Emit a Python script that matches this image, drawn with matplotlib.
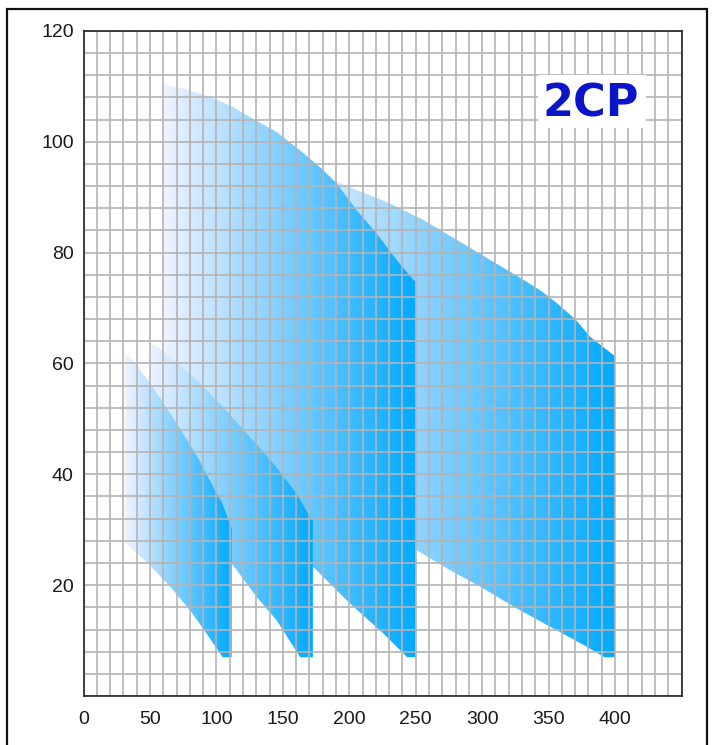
import numpy as np
import matplotlib
matplotlib.use("Agg")
import matplotlib.pyplot as plt
from matplotlib.colors import LinearSegmentedColormap
from matplotlib.patches import Polygon, Rectangle
from matplotlib.ticker import MultipleLocator, FixedLocator

# ---- data (flow Q on x, head H on y) ----
s1_upper_q = [31, 40, 52, 62, 75, 87, 97, 104, 108, 111.5]
s1_upper_h = [62, 59.7, 55.8, 52.2, 47.4, 42.6, 38, 35, 32.5, 30.3]
s1_lower_q = [31, 50, 65, 81, 92.5, 104.5]
s1_lower_h = [27.8, 23.6, 19.8, 15.2, 11.3, 7.1]

s2_upper_q = [50, 55, 80, 102.5, 125, 142.7, 160.3, 170.3, 172.6]
s2_upper_h = [63.5, 63.2, 58.2, 52.8, 46.8, 42, 36.6, 32.3, 31.8]
s2_lower_q = [50, 80, 112.5, 130.2, 145.2, 162.8]
s2_lower_h = [38, 31, 23.6, 17.9, 13.7, 7.1]

s3_upper_q = [60, 75, 87.4, 100, 112.5, 125, 145.2, 162.8, 180.4, 190.5, 205.5, 220.5, 235.6, 248.2, 249.8]
s3_upper_h = [110.5, 109.6, 108.7, 107.6, 106.3, 104.5, 101.8, 98.5, 94.9, 92.5, 87.7, 83.5, 78.7, 75.1, 74.8]
s3_lower_q = [60, 110, 140, 174.1, 200.5, 225.6, 243.2]
s3_lower_h = [45, 33, 28, 23.0, 16.7, 11.3, 7.1]

s4_upper_q = [150, 170, 190.5, 205.5, 230.6, 255.7, 280.9, 306, 331.1, 345, 356.2, 370, 381.4, 392, 399, 400]
s4_upper_h = [96, 94.5, 92.8, 91.3, 88.9, 85.9, 82.3, 78.7, 75.1, 73.0, 70.9, 68.0, 64.8, 62.8, 61.5, 61.2]
s4_lower_q = [150, 200, 250.7, 275.9, 301, 326.1, 351.2, 376.4, 391.4]
s4_lower_h = [40, 33, 26.3, 22.7, 19.4, 15.8, 12.5, 9.2, 7.1]

bottom_h = 7.0
x_ticks = [0, 50, 100, 150, 200, 250, 300, 350, 400]
y_ticks = [20, 40, 60, 80, 100, 120]
label_text = "2CP"

# ---- figure ----
fig = plt.figure(figsize=(7.15, 7.45), dpi=100)
ax = fig.add_axes([83.5 / 715, 49 / 745, 598 / 715, 665 / 745])
ax.set_xlim(0, 450)
ax.set_ylim(0, 120)

cmap = LinearSegmentedColormap.from_list(
    "g", [(0.0, "#f0f3ff"), (0.45, "#86d0ff"), (1.0, "#00aaff")])
grad = np.linspace(0, 1, 512).reshape(1, -1)

shapes = [
    (s4_upper_q, s4_upper_h, s4_lower_q, s4_lower_h),
    (s3_upper_q, s3_upper_h, s3_lower_q, s3_lower_h),
    (s2_upper_q, s2_upper_h, s2_lower_q, s2_lower_h),
    (s1_upper_q, s1_upper_h, s1_lower_q, s1_lower_h),
]
for i, (uq, uh, lq, lh) in enumerate(shapes):
    xr = uq[-1]
    verts = list(zip(uq, uh)) + [(xr, bottom_h)] + [(lq[-1], bottom_h)] + list(zip(lq[::-1], lh[::-1]))
    poly = Polygon(verts, closed=True, facecolor="none", edgecolor="none",
                   transform=ax.transData)
    ax.add_patch(poly)
    im = ax.imshow(grad, cmap=cmap, aspect="auto", interpolation="bilinear",
                   extent=[uq[0], xr, 0, 120], zorder=1 + i * 0.1)
    im.set_clip_path(poly)

ax.set_xlim(0, 450)
ax.set_ylim(0, 120)

ax.xaxis.set_major_locator(FixedLocator(x_ticks))
ax.yaxis.set_major_locator(FixedLocator(y_ticks))
ax.xaxis.set_minor_locator(MultipleLocator(10))
ax.yaxis.set_minor_locator(MultipleLocator(4))
ax.set_axisbelow(False)
ax.grid(which="both", color="#b4b4b4", linewidth=1.2, zorder=2)
ax.tick_params(which="both", length=0)
ax.tick_params(axis="x", pad=11)
ax.tick_params(axis="y", pad=7)
for lab in ax.get_xticklabels() + ax.get_yticklabels():
    lab.set_fontfamily("Liberation Sans")
    lab.set_fontsize(14)
    lab.set_color("#1a1a1a")
for sp in ax.spines.values():
    sp.set_linewidth(1.2)
    sp.set_color("#222222")
    sp.set_zorder(5)

# label box
ax.add_patch(Rectangle((342, 102.5), 81, 9.6, facecolor="white", edgecolor="none", zorder=3))
ax.text(382, 104.6, label_text, ha="center", va="baseline", fontsize=32,
        fontweight="bold", color="#0a14c8", family="DejaVu Sans", zorder=4)

# figure frame
fig.add_artist(Rectangle((7 / 715, -0.02), 700 / 715, 1 - 9 / 745 + 0.02,
                         transform=fig.transFigure, facecolor="none",
                         edgecolor="#111111", linewidth=1.6, clip_on=False))

fig.savefig("out.png", dpi=100)
